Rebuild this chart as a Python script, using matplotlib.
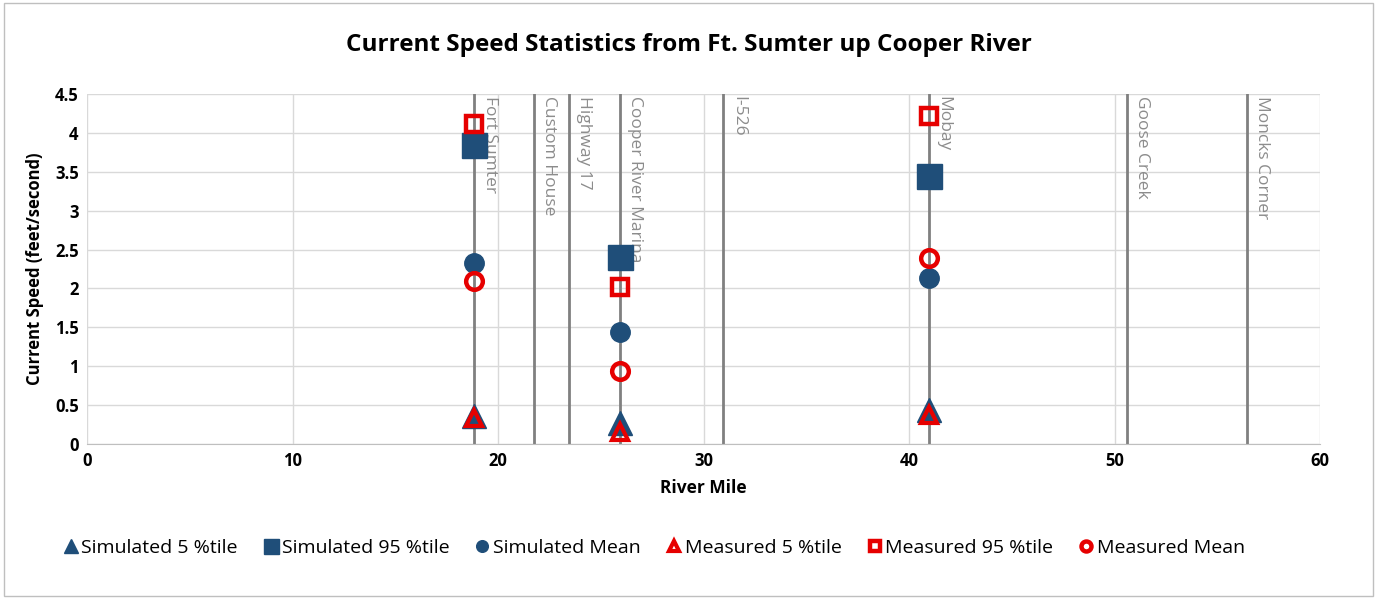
import matplotlib.pyplot as plt
from matplotlib.patches import Rectangle

# station locations (river mile) and names
station_names = ['Fort Sumter', 'Custom House', 'Highway 17', 'Cooper River Marina',
                 'I-526', 'Mobay', 'Goose Creek', 'Moncks Corner']
station_miles = [18.85, 21.75, 23.45, 25.95, 30.95, 40.95, 50.6, 56.45]

# measurement stations with statistics
stat_miles = [18.85, 25.95, 40.95]
sim_5 = [0.36, 0.27, 0.44]
sim_95 = [3.85, 2.40, 3.44]
sim_mean = [2.33, 1.44, 2.14]
meas_5 = [0.33, 0.15, 0.37]
meas_95 = [4.11, 2.02, 4.22]
meas_mean = [2.09, 0.94, 2.39]

blue = '#1f4e79'
red = '#e60000'

plt.rcParams['font.family'] = ['Open Sans', 'DejaVu Sans']

fig = plt.figure(figsize=(13.77, 5.99), dpi=100)
ax = fig.add_axes([87 / 1377, 1 - 444 / 599, (1320 - 87) / 1377, (444 - 94) / 599])

# outer chart border
fig.patches.append(Rectangle((0.003, 0.005), 0.994, 0.99, transform=fig.transFigure,
                             fill=False, edgecolor='#bfbfbf', linewidth=1))

ax.set_xlim(0, 60)
ax.set_ylim(0, 4.5)
ax.set_xticks(range(0, 61, 10))
ax.set_yticks([0, 0.5, 1, 1.5, 2, 2.5, 3, 3.5, 4, 4.5])
ax.set_yticklabels(['0', '0.5', '1', '1.5', '2', '2.5', '3', '3.5', '4', '4.5'])
ax.grid(True, color='#d9d9d9', linewidth=1)
ax.set_axisbelow(True)
for s in ['top', 'right', 'left']:
    ax.spines[s].set_visible(False)
ax.spines['bottom'].set_color('#bfbfbf')
ax.tick_params(length=0, labelsize=12, pad=6)
for lbl in ax.get_xticklabels() + ax.get_yticklabels():
    lbl.set_fontweight('bold')

# station lines and labels
for name, mile in zip(station_names, station_miles):
    ax.axvline(mile, color='#808080', linewidth=2, zorder=1)
    ax.text(mile + 0.35, 4.47, name, rotation=-90, va='top', ha='left',
            fontsize=12.5, color='#8c8c8c', zorder=2)

ax.plot(stat_miles, sim_5, '^', color=blue, markersize=17, linestyle='none',
        label='Simulated 5 %tile', zorder=3)
ax.plot(stat_miles, sim_95, 's', color=blue, markersize=18, linestyle='none',
        label='Simulated 95 %tile', zorder=3)
ax.plot(stat_miles, sim_mean, 'o', color=blue, markersize=14, linestyle='none',
        label='Simulated Mean', zorder=3)
ax.plot(stat_miles, meas_5, '^', markerfacecolor='none', markeredgecolor=red,
        markeredgewidth=3, markersize=12, linestyle='none', label='Measured 5 %tile', zorder=4)
ax.plot(stat_miles, meas_95, 's', markerfacecolor='none', markeredgecolor=red,
        markeredgewidth=3.2, markersize=12, linestyle='none', label='Measured 95 %tile', zorder=4)
ax.plot(stat_miles, meas_mean, 'o', markerfacecolor='none', markeredgecolor=red,
        markeredgewidth=3.2, markersize=12, linestyle='none', label='Measured Mean', zorder=4)

ax.set_xlabel('River Mile', fontsize=12.5, fontweight='bold', labelpad=6)
ax.set_ylabel('Current Speed (feet/second)', fontsize=12, fontweight='bold', labelpad=8)
fig.text(0.5, 0.925, 'Current Speed Statistics from Ft. Sumter up Cooper River',
         ha='center', va='center', fontsize=17.5, fontweight='bold')

leg = fig.legend(loc='center', bbox_to_anchor=(0.475, 0.085), ncol=6, frameon=False,
                 fontsize=14, handlelength=0.8, handletextpad=0.15, columnspacing=1.3,
                 markerscale=0.6, prop={'size': 14, 'weight': 'medium'})

fig.savefig('out.png', dpi=100)
